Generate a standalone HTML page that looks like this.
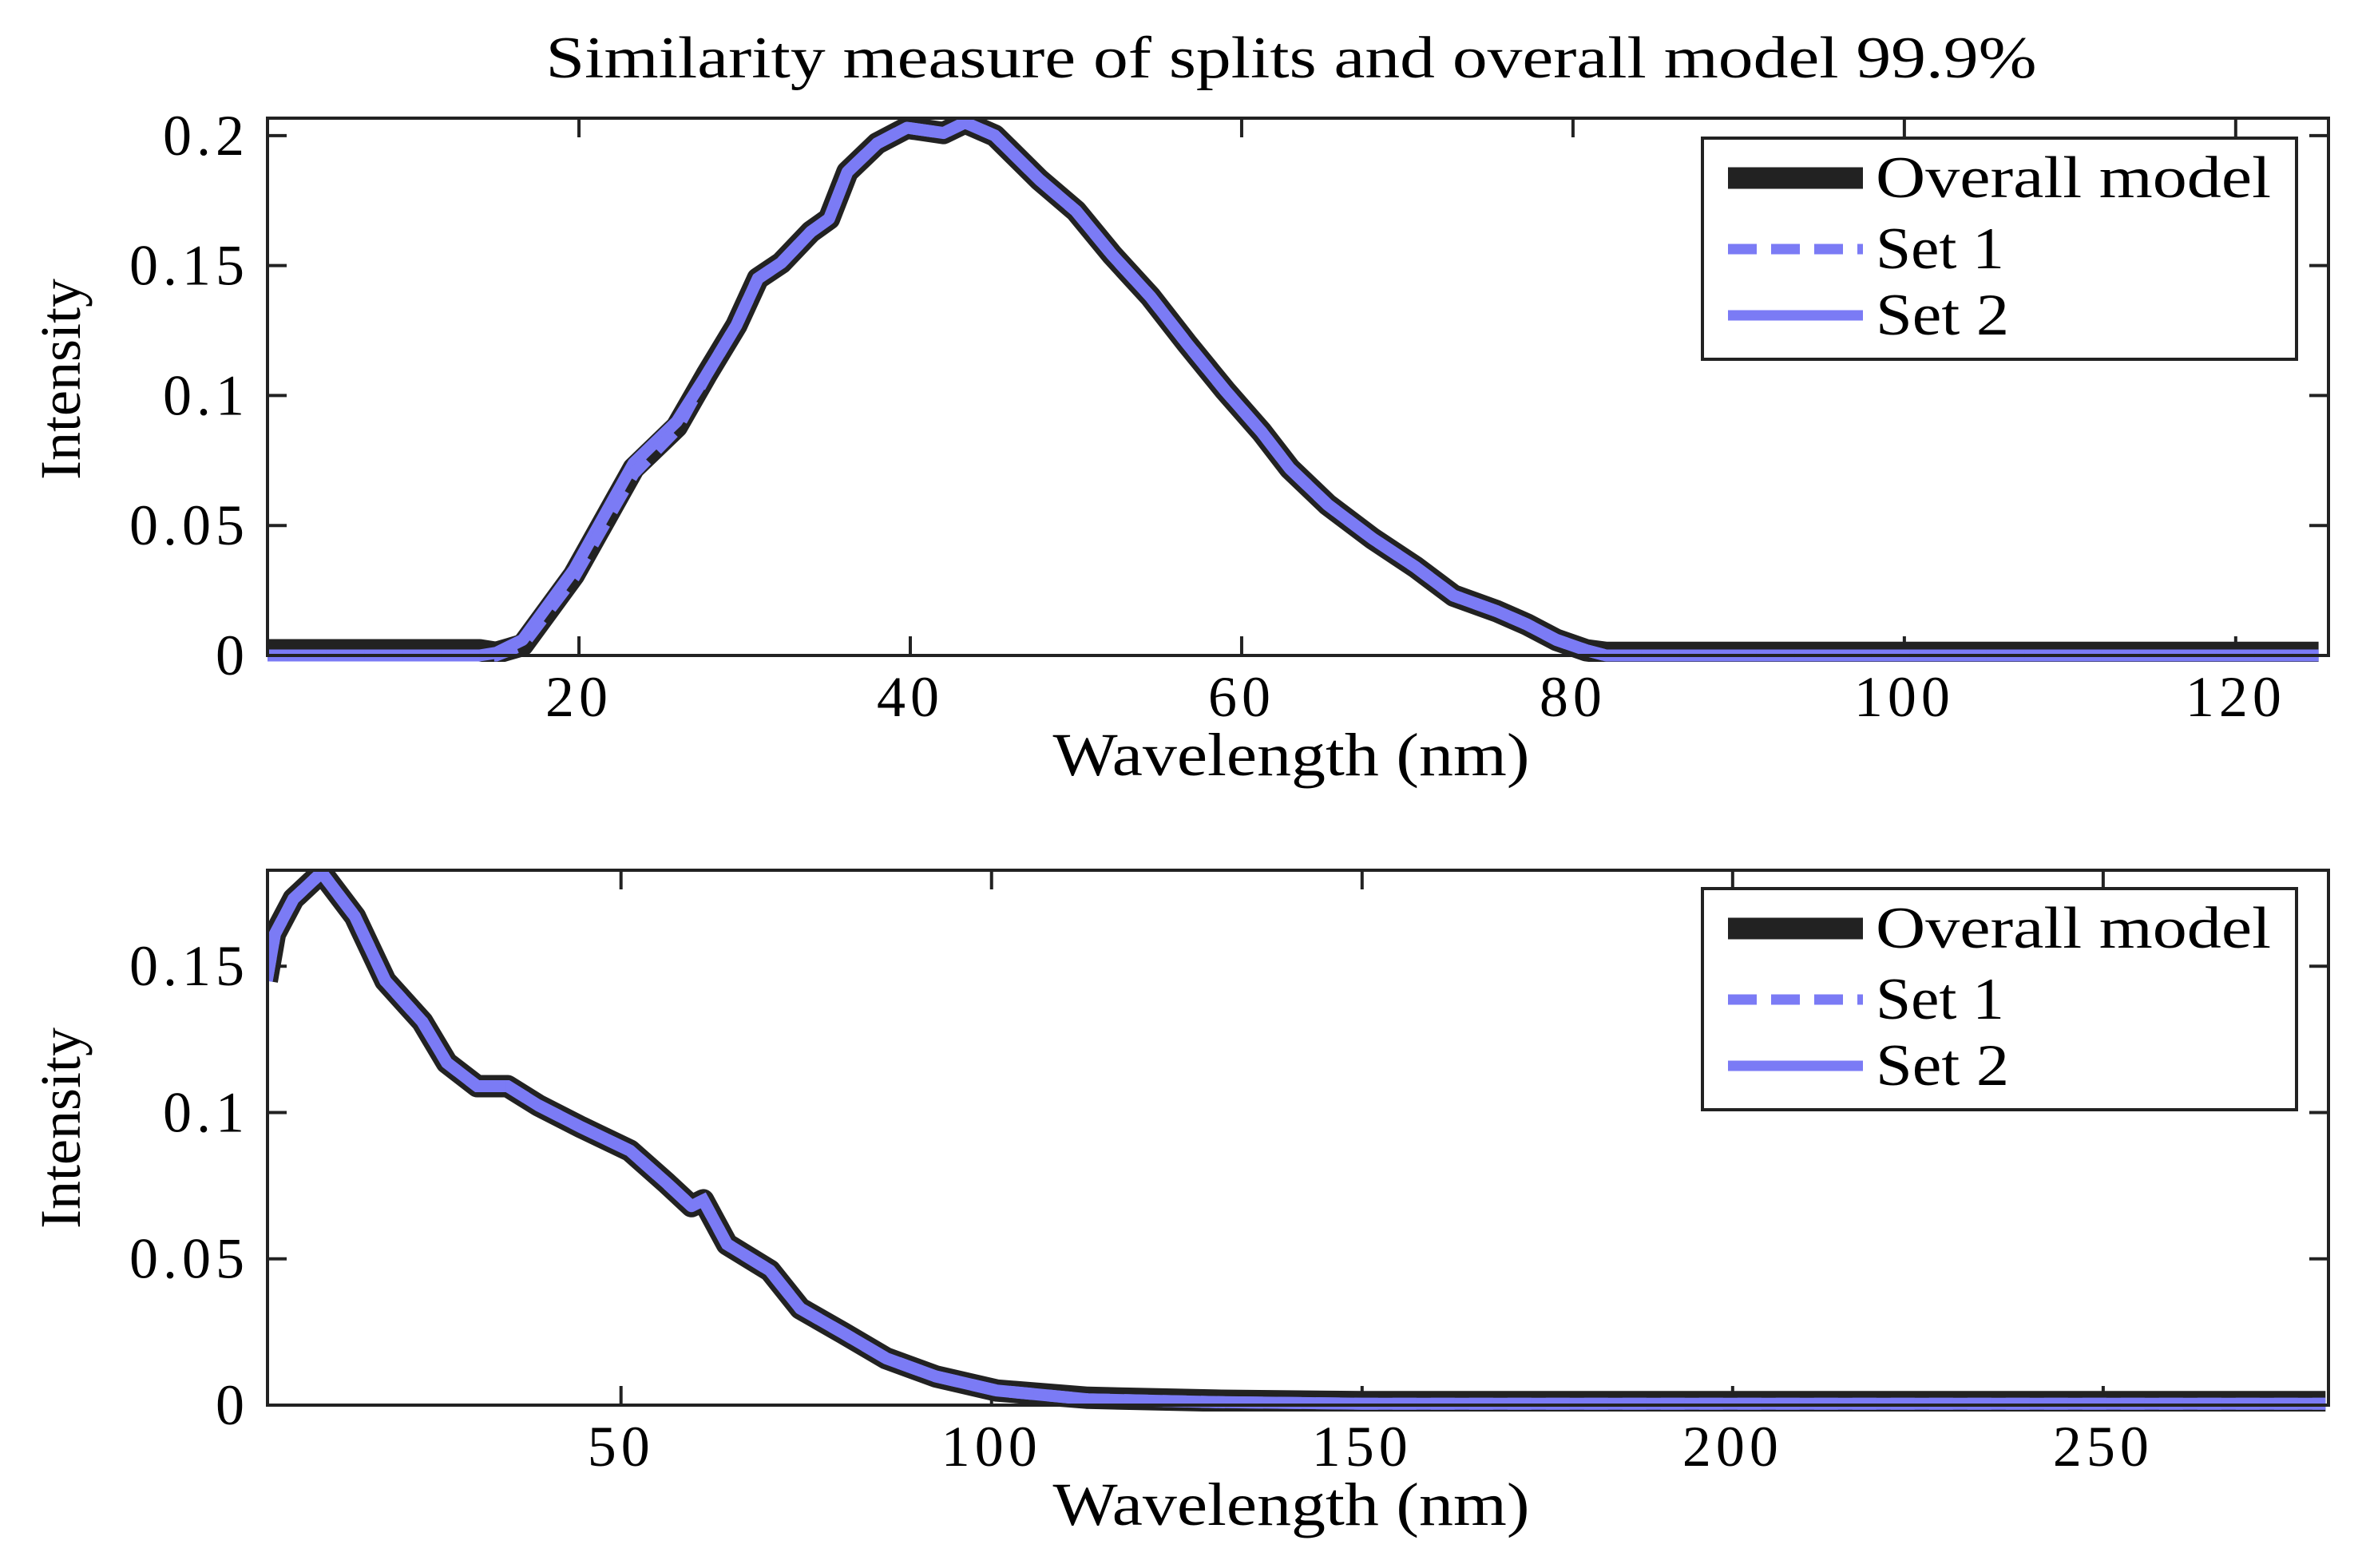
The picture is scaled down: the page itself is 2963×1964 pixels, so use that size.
<!DOCTYPE html>
<html><head><meta charset="utf-8">
<style>
html,body{margin:0;padding:0;background:#fff;}
svg{display:block;}
text{font-family:"Liberation Serif","DejaVu Serif",serif;fill:#000;}
</style></head>
<body>
<svg id="fig" width="2963" height="1964" viewBox="0 0 2963 1964" xmlns="http://www.w3.org/2000/svg">
<rect width="2963" height="1964" fill="#fff"/>
<text x="1617" y="97" font-size="74" text-anchor="middle" textLength="1867" lengthAdjust="spacingAndGlyphs">Similarity measure of splits and overall model 99.9%</text>
<g id="top"></g>
<g id="bottom"></g>
</svg>
<script>
// ---- Top chart data ----
const topX = [1, 14, 15, 16.6, 19.7, 23.3, 25.9, 27.7, 29.5, 30.8, 32.2, 34, 35.1, 36.2, 38, 39.8, 42, 43.3, 45.1, 47.8, 50, 52.2, 54.5, 56.7, 59, 61.2, 62.9, 65.2, 67.9, 70.5, 72.8, 75.4, 77.2, 79, 80.8, 82, 125];
const topOverall = [0.002, 0.002, 0.001, 0.004, 0.031, 0.072, 0.088, 0.108, 0.127, 0.145, 0.151, 0.163, 0.168, 0.186, 0.197, 0.203, 0.201, 0.205, 0.200, 0.183, 0.171, 0.154, 0.138, 0.120, 0.102, 0.086, 0.072, 0.058, 0.045, 0.034, 0.023, 0.017, 0.012, 0.006, 0.002, 0.001, 0.001];
const topSet1 = [0, 0, 0, 0.004, 0.030, 0.070, 0.087, 0.108, 0.127, 0.145, 0.151, 0.163, 0.168, 0.186, 0.197, 0.203, 0.201, 0.205, 0.200, 0.183, 0.171, 0.154, 0.138, 0.120, 0.102, 0.086, 0.072, 0.058, 0.045, 0.034, 0.023, 0.017, 0.012, 0.006, 0.002, 0, 0];
const topSet2 = [0, 0, 0.001, 0.006, 0.033, 0.074, 0.090, 0.108, 0.127, 0.145, 0.151, 0.163, 0.168, 0.186, 0.197, 0.203, 0.201, 0.205, 0.200, 0.183, 0.171, 0.154, 0.138, 0.120, 0.102, 0.086, 0.072, 0.058, 0.045, 0.034, 0.023, 0.017, 0.012, 0.006, 0.002, 0, 0];
const topXTicks = [20, 40, 60, 80, 100, 120];
const topYTicks = [0, 0.05, 0.1, 0.15, 0.2];
const topYTickLabels = ["0", "0.05", "0.1", "0.15", "0.2"];

// ---- Bottom chart data ----
const botX = [2.2, 3.3, 5.8, 9.6, 14.1, 18.2, 23.2, 26.5, 30.6, 34.7, 38.8, 44.6, 51.2, 56.1, 59.5, 61.1, 64.3, 70.1, 74.2, 80, 85.8, 92.5, 100.7, 113, 131, 150, 280];
const botOverall = [0.145, 0.161, 0.173, 0.182, 0.167, 0.145, 0.131, 0.117, 0.109, 0.109, 0.1025, 0.095, 0.087, 0.076, 0.068, 0.070, 0.055, 0.046, 0.033, 0.0246, 0.016, 0.0098, 0.005, 0.0025, 0.0015, 0.001, 0.001];
const botSet1 = [0.145, 0.161, 0.173, 0.182, 0.167, 0.145, 0.131, 0.117, 0.109, 0.109, 0.1025, 0.095, 0.087, 0.076, 0.068, 0.070, 0.055, 0.046, 0.033, 0.0246, 0.016, 0.0098, 0.005, 0.002, 0.001, 0.0005, 0.0005];
const botSet2 = [0.145, 0.161, 0.173, 0.182, 0.167, 0.145, 0.131, 0.117, 0.109, 0.109, 0.1025, 0.095, 0.087, 0.076, 0.068, 0.070, 0.055, 0.046, 0.033, 0.0246, 0.016, 0.0098, 0.005, 0.002, 0.001, 0.0005, 0.0005];
const botXTicks = [50, 100, 150, 200, 250];
const botYTicks = [0, 0.05, 0.1, 0.15];
const botYTickLabels = ["0", "0.05", "0.1", "0.15"];

const NS = "http://www.w3.org/2000/svg";
function mk(tag, attrs, parent){
  const e = document.createElementNS(NS, tag);
  for (const k in attrs) e.setAttribute(k, attrs[k]);
  parent.appendChild(e);
  return e;
}

function drawPlot(g, cfg){
  const L = 335, R = 2916, T = cfg.top, B = cfg.bottom;
  const sx = v => L + (v - cfg.xmin) / (cfg.xmax - cfg.xmin) * (R - L);
  const sy = v => B - (v - 0) / (cfg.ymax - 0) * (B - T);
  const y0 = sy(0);
  const cp = mk('clipPath', {id: cfg.id + '-clip'}, g);
  mk('rect', {x: L, y: T, width: R - L, height: B - T + 8}, cp);
  cfg.xTicks.forEach(t => {
    const x = sx(t);
    const tk = mk('line', {x1: x, x2: x, y1: B, y2: B - 24, stroke: '#222', 'stroke-width': 4}, g);
    
    
    const tk2 = mk('line', {x1: x, x2: x, y1: T, y2: T + 24, stroke: '#222', 'stroke-width': 4}, g);
    
    
    const lb = mk('text', {x: x, y: y0 + 76, 'font-size': 72, 'text-anchor': 'middle', 'letter-spacing': 6}, g);
    lb.textContent = String(t);
    
    
  });
  cfg.yTicks.forEach((t, i) => {
    const y = sy(t);
    const tk = mk('line', {x1: L, x2: L + 24, y1: y, y2: y, stroke: '#222', 'stroke-width': 4}, g);
    
    
    const tk2 = mk('line', {x1: R, x2: R - 24, y1: y, y2: y, stroke: '#222', 'stroke-width': 4}, g);
    
    
    const lb = mk('text', {x: 312, y: y + 24, 'font-size': 72, 'text-anchor': 'end', 'letter-spacing': 6}, g);
    lb.textContent = cfg.yLabels[i];
    
    
  });
  const path = (xs, ys) => xs.map((x, i) => (i ? 'L' : 'M') + sx(x).toFixed(1) + ',' + sy(ys[i]).toFixed(1)).join(' ');
  const sg = mk('g', {'clip-path': 'url(#' + cfg.id + '-clip)'}, g);
  const p1 = mk('path', {d: path(cfg.x, cfg.overall), fill: 'none', stroke: '#222', 'stroke-width': 28, 'stroke-linejoin': 'round'}, sg);
  
  
  const p3 = mk('path', {d: path(cfg.x, cfg.set2), fill: 'none', stroke: '#7b7bf5', 'stroke-width': 15, 'stroke-linejoin': 'round'}, sg);
  
  
  const p2 = mk('path', {d: path(cfg.x, cfg.set1), fill: 'none', stroke: '#7b7bf5', 'stroke-width': 15, 'stroke-dasharray': '30 18'}, sg);
  
  
  const fr = mk('rect', {x: L, y: T, width: R - L, height: B - T, fill: 'none', stroke: '#222', 'stroke-width': 4}, g);
  
  
  const xt = mk('text', {x: 1617, y: y0 + 150, 'font-size': 76, 'text-anchor': 'middle', textLength: 597, lengthAdjust: 'spacingAndGlyphs'}, g);
  xt.textContent = 'Wavelength (nm)';
  
  
  const yt = mk('text', {x: 0, y: 0, 'font-size': 72, 'text-anchor': 'middle', textLength: 252, lengthAdjust: 'spacingAndGlyphs', transform: 'translate(100,' + cfg.ylabelY + ') rotate(-90)'}, g);
  yt.textContent = 'Intensity';
  
  
  const lt = cfg.legendTop;
  const lg = mk('g', {}, g);
  
  
  mk('rect', {x: 2132, y: lt, width: 744, height: 277, fill: '#fff', stroke: '#222', 'stroke-width': 4}, lg);
  const entries = [['Overall model', '#222', 27, null, 50, 495], ['Set 1', '#7b7bf5', 13, '36 18', 139, 161], ['Set 2', '#7b7bf5', 13, null, 222, 167]];
  entries.forEach(en => {
    const yy = lt + en[4];
    const ln = mk('line', {x1: 2164, x2: 2333, y1: yy, y2: yy, stroke: en[1], 'stroke-width': en[2]}, lg);
    if (en[3]) ln.setAttribute('stroke-dasharray', en[3]);
    
    
    const tx = mk('text', {x: 2349, y: yy + 24, 'font-size': 74, textLength: en[5], lengthAdjust: 'spacingAndGlyphs'}, lg);
    tx.textContent = en[0];
    
    
  });
}

drawPlot(document.getElementById('top'), {id: 'top', top: 148, bottom: 821, xmin: 1.2, xmax: 125.6, ymax: 0.2067,
  x: topX, overall: topOverall, set1: topSet1, set2: topSet2, xTicks: topXTicks, yTicks: topYTicks, yLabels: topYTickLabels,
  ylabelY: 475, legendTop: 173});
drawPlot(document.getElementById('bottom'), {id: 'bot', top: 1090, bottom: 1760, xmin: 2.3, xmax: 280.4, ymax: 0.1828,
  x: botX, overall: botOverall, set1: botSet1, set2: botSet2, xTicks: botXTicks, yTicks: botYTicks, yLabels: botYTickLabels,
  ylabelY: 1413, legendTop: 1113});
</script>
</body></html>
